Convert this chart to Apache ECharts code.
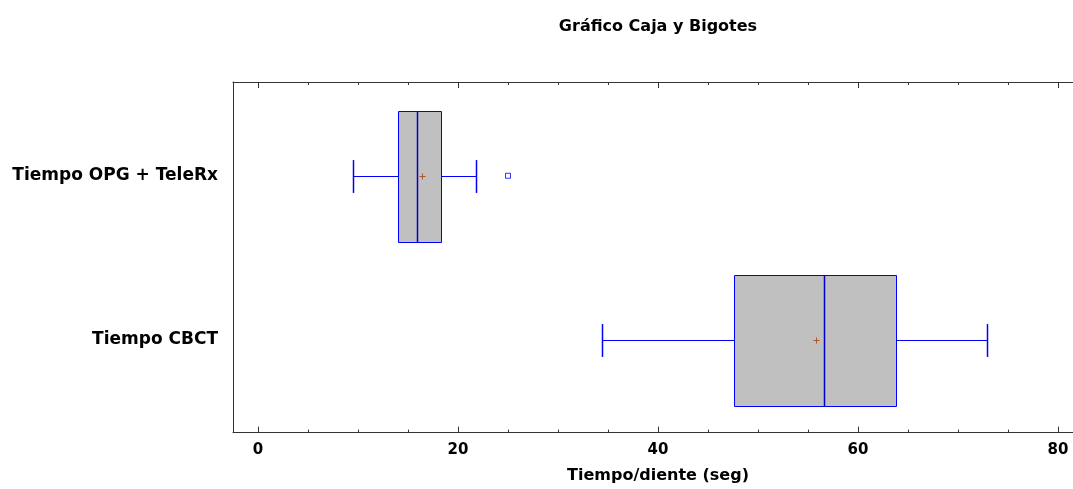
<!DOCTYPE html>
<html>
<head>
<meta charset="utf-8">
<script src="https://cdn.jsdelivr.net/npm/echarts@6/dist/echarts.min.js"></script>
<style>
html,body{margin:0;padding:0;background:#fff;}
#chart{width:1073px;height:489px;}
</style>
</head>
<body>
<div id="chart"></div>
<script>
var categories = ['Tiempo OPG + TeleRx', 'Tiempo CBCT'];
var mins    = [9.5, 34.4];
var q1s     = [14.0, 47.6];
var medians = [15.9, 56.6];
var q3s     = [18.3, 63.8];
var maxs    = [21.8, 72.9];
var means   = [16.4, 55.8];
var outliers = [[25.0, 0]];
var xTicks = [0, 20, 40, 60, 80];

var FONT = 'DejaVu Sans';
var boxData = categories.map(function (c, i) {
  return [i, mins[i], q1s[i], medians[i], q3s[i], maxs[i], means[i]];
});

var chart = echarts.init(document.getElementById('chart'), null, {renderer: 'canvas'});

function renderBox(params, api) {
  var cat = api.value(0);
  var band = api.size([0, 1])[1];
  var pMin = api.coord([api.value(1), cat]);
  var pQ1 = api.coord([api.value(2), cat]);
  var pMed = api.coord([api.value(3), cat]);
  var pQ3 = api.coord([api.value(4), cat]);
  var pMax = api.coord([api.value(5), cat]);
  var pMean = api.coord([api.value(6), cat]);
  var yc = Math.round(pMin[1]) + 0.5;
  var hb = band * 0.4;
  var hc = band * 0.1;
  var blue = '#0000ff';
  var r = function (v) { return Math.round(v) + 0.5; };
  return {
    type: 'group',
    children: [
      {type: 'rect', shape: {x: r(pQ1[0]), y: r(yc - hb), width: r(pQ3[0]) - r(pQ1[0]), height: Math.round(2 * hb)},
        style: {fill: '#c0c0c0', stroke: blue, lineWidth: 1}},
      {type: 'line', shape: {x1: r(pMed[0]), y1: r(yc - hb), x2: r(pMed[0]), y2: r(yc - hb) + Math.round(2 * hb)},
        style: {stroke: '#0000cc', lineWidth: 1.5}},
      {type: 'line', shape: {x1: r(pMin[0]), y1: yc, x2: r(pQ1[0]), y2: yc}, style: {stroke: blue, lineWidth: 1}},
      {type: 'line', shape: {x1: r(pQ3[0]), y1: yc, x2: r(pMax[0]), y2: yc}, style: {stroke: blue, lineWidth: 1}},
      {type: 'line', shape: {x1: r(pMin[0]), y1: yc - hc, x2: r(pMin[0]), y2: yc + hc}, style: {stroke: blue, lineWidth: 1.5}},
      {type: 'line', shape: {x1: r(pMax[0]), y1: yc - hc, x2: r(pMax[0]), y2: yc + hc}, style: {stroke: blue, lineWidth: 1.5}},
      {type: 'line', shape: {x1: r(pMean[0]) - 3, y1: yc, x2: r(pMean[0]) + 3, y2: yc}, style: {stroke: '#a8582a', lineWidth: 1}},
      {type: 'line', shape: {x1: r(pMean[0]), y1: yc - 3, x2: r(pMean[0]), y2: yc + 3}, style: {stroke: '#a8582a', lineWidth: 1}}
    ]
  };
}

var frameAxis = {
  type: 'value', min: 0, max: 1,
  axisLine: {show: true, lineStyle: {color: '#333', width: 1}},
  axisTick: {show: false}, axisLabel: {show: false}, splitLine: {show: false}
};

var option = {
  animation: false,
  backgroundColor: '#ffffff',
  title: {
    text: 'Gráfico Caja y Bigotes',
    left: 658,
    top: 19,
    padding: 0,
    textAlign: 'center',
    textStyle: {fontFamily: FONT, fontWeight: 'bold', fontSize: 16, color: '#000'}
  },
  grid: [
    {left: 233, top: 82, right: 0, height: 350},
    {left: 258, top: 93.6, width: 800, height: 328.6}
  ],
  xAxis: [
    Object.assign({gridIndex: 0, position: 'bottom'}, frameAxis),
    Object.assign({gridIndex: 0, position: 'top'}, frameAxis),
    {
      gridIndex: 1, type: 'value', position: 'bottom', min: xTicks[0], max: xTicks[xTicks.length - 1], interval: 20,
      offset: 10.4,
      axisLine: {show: false},
      axisTick: {show: true, inside: true, length: 6, lineStyle: {color: '#333'}},
      minorTick: {show: true, splitNumber: 4, length: 3, lineStyle: {color: '#333'}},
      splitLine: {show: false},
      axisLabel: {margin: 10, fontFamily: FONT, fontWeight: 'bold', fontSize: 15, color: '#000'},
      name: 'Tiempo/diente (seg)', nameLocation: 'middle', nameGap: 35,
      nameTextStyle: {fontFamily: FONT, fontWeight: 'bold', fontSize: 16, color: '#000'}
    },
    {
      gridIndex: 1, type: 'value', position: 'top', min: xTicks[0], max: xTicks[xTicks.length - 1], interval: 20,
      offset: 11.6,
      axisLine: {show: false},
      axisTick: {show: true, inside: true, length: 6, lineStyle: {color: '#333'}},
      minorTick: {show: true, splitNumber: 4, length: 3, lineStyle: {color: '#333'}},
      splitLine: {show: false},
      axisLabel: {show: false}
    }
  ],
  yAxis: [
    Object.assign({gridIndex: 0, position: 'left'}, frameAxis),
    {
      gridIndex: 1, type: 'category', data: categories, inverse: true,
      axisLine: {show: false}, axisTick: {show: false}, splitLine: {show: false},
      axisLabel: {margin: 40, fontFamily: FONT, fontWeight: 'bold', fontSize: 17, color: '#000'}
    }
  ],
  series: [
    {
      type: 'custom', xAxisIndex: 2, yAxisIndex: 1,
      renderItem: renderBox,
      encode: {x: [1, 2, 3, 4, 5, 6], y: 0},
      data: boxData
    },
    {
      type: 'scatter', xAxisIndex: 2, yAxisIndex: 1,
      symbol: 'rect', symbolSize: 5,
      itemStyle: {color: '#ffffff', borderColor: '#0000ff', borderWidth: 1},
      data: outliers
    }
  ]
};
chart.setOption(option);
</script>
</body>
</html>
